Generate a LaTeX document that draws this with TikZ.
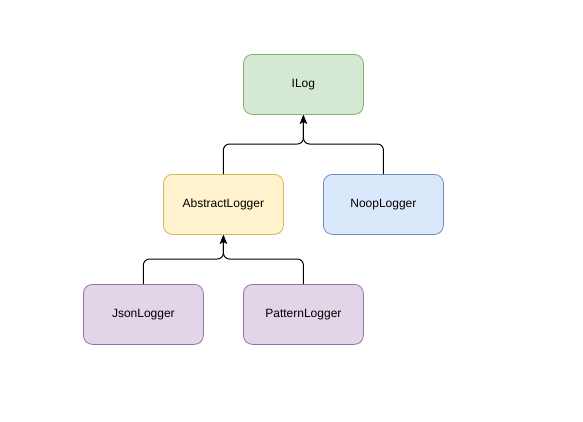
\documentclass[tikz,border=0pt]{standalone}
\usepackage{fontspec}
\setmainfont{Liberation Sans}
\usetikzlibrary{arrows.meta}
\definecolor{gfill}{HTML}{D5E8D4}\definecolor{gdraw}{HTML}{82B366}
\definecolor{yfill}{HTML}{FFF2CC}\definecolor{ydraw}{HTML}{D6B656}
\definecolor{bfill}{HTML}{DAE8FC}\definecolor{bdraw}{HTML}{6C8EBF}
\definecolor{pfill}{HTML}{E1D5E7}\definecolor{pdraw}{HTML}{9673A6}
\begin{document}
\begin{tikzpicture}[x=1pt,y=-1pt,
  box/.style={rounded corners=9pt, minimum width=120pt, minimum height=60pt, line width=0.8pt, inner sep=0pt, font=\fontsize{12}{14}\selectfont, anchor=north west},
  green/.style={box, fill=gfill, draw=gdraw},
  yellow/.style={box, fill=yfill, draw=ydraw},
  blue/.style={box, fill=bfill, draw=bdraw},
  purple/.style={box, fill=pfill, draw=pdraw},
  inh/.style={line width=1pt, rounded corners=6pt, -{Stealth[length=9pt,width=7pt,inset=2pt]}}]
\useasboundingbox (0,0) rectangle (583,421);
\node[green] (ilog) at (243,54) {ILog};
\node[yellow] (abs) at (163,174) {AbstractLogger};
\node[blue] (noop) at (323,174) {NoopLogger};
\node[purple] (json) at (83,284) {JsonLogger};
\node[purple] (pat) at (243,284) {PatternLogger};
\draw[inh] (abs.north) -- ++(0,-30) -| (ilog.south);
\draw[inh] (noop.north) -- ++(0,-30) -| (ilog.south);
\draw[inh] (json.north) -- ++(0,-25) -| (abs.south);
\draw[inh] (pat.north) -- ++(0,-25) -| (abs.south);
\end{tikzpicture}
\end{document}
